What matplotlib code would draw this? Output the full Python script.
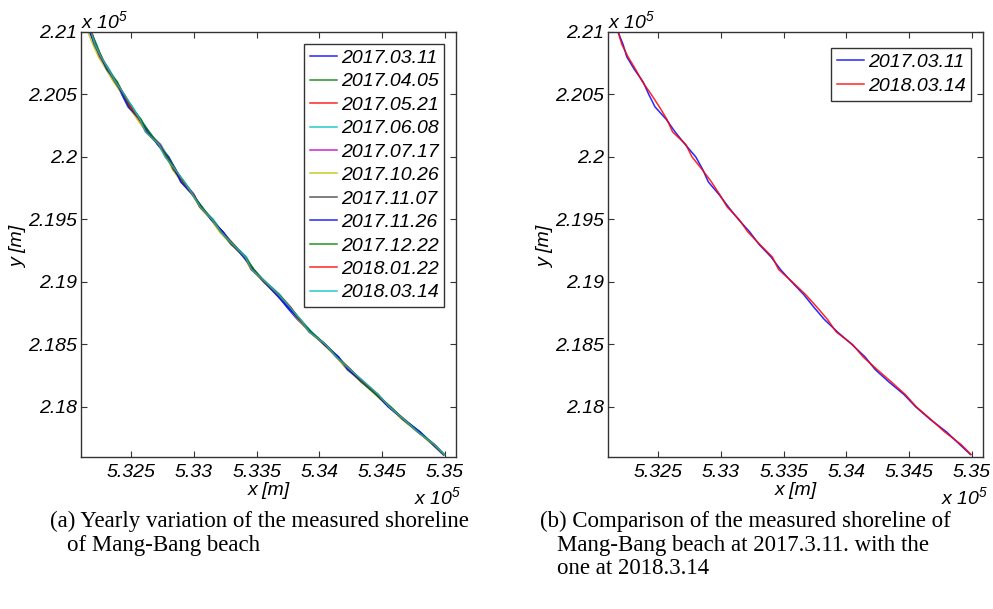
import numpy as np
import matplotlib.pyplot as plt

plt.rcParams['font.family'] = ['Liberation Sans', 'DejaVu Sans']
plt.rcParams['mathtext.fontset'] = 'custom'
plt.rcParams['mathtext.it'] = 'Liberation Sans:italic'
plt.rcParams['mathtext.rm'] = 'Liberation Sans:italic'

# shoreline northing (m), every 100 m
y_base = [221000, 220900, 220800, 220700, 220600, 220500, 220400, 220300, 220200,
          220100, 220000, 219900, 219800, 219700, 219600, 219500, 219400, 219300,
          219200, 219100, 219000, 218900, 218800, 218700, 218600, 218500, 218400,
          218300, 218200, 218100, 218000, 217900, 217800, 217700, 217620]
# mean shoreline easting (m)
x_base = [532180, 532215, 532255, 532310, 532375, 532435, 532490, 532565, 532625,
          532720, 532785, 532845, 532910, 532990, 533055, 533140, 533220, 533305,
          533405, 533465, 533565, 533670, 533760, 533840, 533925, 534045, 534140,
          534235, 534340, 534455, 534560, 534670, 534790, 534910, 534990]

dates = ['2017.03.11', '2017.04.05', '2017.05.21', '2017.06.08', '2017.07.17',
         '2017.10.26', '2017.11.07', '2017.11.26', '2017.12.22', '2018.01.22',
         '2018.03.14']

# easting offsets of each survey from the mean shoreline (m)
offsets = {
    '2017.03.11': [0, 5, -5, 0, 5, -10, -15, 0, 10, -5, 15, 10, -10, -5, 5, 0, 10, 0,
                   -5, 10, 0, -10, -20, -15, 5, 0, 10, -5, 0, 5, -5, 0, 10, -5, 0],
    '2017.04.05': [-10, -5, 0, 10, 5, 0, 10, 15, 0, -5, 5, 0, 10, 5, -5, 10, 0, -10,
                   5, 0, -5, 10, 5, 0, -5, 5, 10, 0, -5, 5, 10, 0, -5, 5, 0],
    '2017.05.21': [5, 0, 10, -5, 0, 10, 15, -10, 5, 10, -5, 5, 0, 10, -10, 0, 5, 15,
                   0, -10, 5, 0, -5, 10, 5, -10, 5, 15, 5, -5, 0, 10, 5, 0, 5],
    '2017.06.08': [0, 10, 5, 15, 10, 5, 20, 10, 5, 15, 10, 5, 15, 10, 0, 15, 5, 10,
                   15, 5, 10, 15, 5, 10, 15, 5, 10, 5, 15, 10, 5, 10, 15, 5, 10],
    '2017.07.17': [-5, 0, -10, 5, 0, -5, 5, 0, -5, 10, 0, -5, 5, 10, -5, 0, 5, -5,
                   0, 5, -10, 0, 5, -5, 0, 5, 0, -10, 5, 0, -5, 5, 0, -5, 0],
    '2017.10.26': [-25, -20, -15, -10, -15, -5, -10, -15, -5, -10, -5, -15, -10, -5,
                   -10, -5, -15, -5, -10, -5, -10, -15, -5, -10, -5, -10, -5, -15,
                   -5, -10, -5, -10, -5, -10, -5],
    '2017.11.07': [-5, -10, 0, 5, -5, 0, -5, 5, 0, -5, 5, -10, 0, 5, -5, 5, 0, -5,
                   5, 0, -5, 5, -5, 0, 5, -5, 0, 5, -5, 0, 5, -5, 0, 5, 0],
    '2017.11.26': [-10, -5, 5, -5, 10, -5, -10, 5, 15, -10, 10, 5, -15, 0, 10, -5,
                   15, 5, -10, 10, -5, -15, -10, 0, 10, -5, 15, -10, 5, 0, -10, 5,
                   15, -5, 0],
    '2017.12.22': [0, 5, 10, 0, 15, 5, 0, 10, 20, 0, 5, 10, 5, 0, 10, 5, 0, 10, 5,
                   15, 0, 5, 10, 0, 10, 5, 0, 15, 5, 0, 10, 5, 0, 10, 5],
    '2018.01.22': [5, -5, 5, 10, 0, 10, 5, 5, -10, 0, -10, 5, 10, 0, -5, 5, -5, 5, 5,
                   -5, 5, 5, 10, 5, -5, 5, -5, 10, 15, 15, 0, 5, -5, 5, 5],
    '2018.03.14': [0, -5, 5, 10, 0, 10, 20, 5, -10, 0, -15, 5, 15, 0, -5, 5, -5, 5,
                   5, -5, 5, 5, 5, 10, -5, 5, -5, 10, 20, 15, 0, 5, -5, 5, 5],
}

colors_a = ['#0000ff', '#008000', '#ff0000', '#00bfbf', '#bf00bf', '#bfbf00',
            '#404040', '#0000ff', '#008000', '#ff0000', '#00bfbf']

xticks = [532500, 533000, 533500, 534000, 534500, 535000]
xticklabels = ['5.325', '5.33', '5.335', '5.34', '5.345', '5.35']
yticks = [218000, 218500, 219000, 219500, 220000, 220500, 221000]
yticklabels = ['2.18', '2.185', '2.19', '2.195', '2.2', '2.205', '2.21']

fs = 14

fig = plt.figure(figsize=(9.93, 6.09), dpi=100)
ax1 = fig.add_axes([0.0816, 0.2496, 0.3776, 0.698])
ax2 = fig.add_axes([0.6123, 0.2496, 0.3776, 0.698])

yb = np.array(y_base)
xb = np.array(x_base)

for d, c in zip(dates, colors_a):
    ax1.plot(xb + np.array(offsets[d]), yb, color=c, lw=1.1, label=d, alpha=0.85)

ax2.plot(xb + np.array(offsets['2017.03.11']), yb, color='#0000ff', lw=1.1,
         label='2017.03.11', alpha=0.85)
ax2.plot(xb + np.array(offsets['2018.03.14']), yb, color='#ff0000', lw=1.1,
         label='2018.03.14', alpha=0.85)

for ax in (ax1, ax2):
    ax.set_xlim(532100, 535090)
    ax.set_ylim(217600, 221000)
    ax.set_xticks(xticks)
    ax.set_xticklabels(xticklabels)
    ax.set_yticks(yticks)
    ax.set_yticklabels(yticklabels)
    ax.tick_params(direction='in', length=4, width=0.8, top=True, right=True,
                   labelsize=fs, colors='#333333', labelcolor='black', pad=3)
    ax.tick_params(axis='x', pad=5)
    for lab in ax.get_xticklabels() + ax.get_yticklabels():
        lab.set_fontstyle('italic')
    for s in ax.spines.values():
        s.set_color('#333333')
        s.set_linewidth(1.0)
    ax.set_xlabel('x [m]', fontsize=fs, fontstyle='italic')
    ax.xaxis.set_label_coords(0.5, -0.06)
    ax.set_ylabel('y [m]', fontsize=fs, fontstyle='italic')
    ax.yaxis.set_label_coords(-0.145, 0.494)
    ax.text(0.0, 1.0, 'x 10$^{5}$', transform=ax.transAxes, ha='left', va='bottom',
            fontsize=fs, fontstyle='italic')
    ax.annotate('x 10$^{5}$', xy=(1.0, 0.0), xycoords='axes fraction',
                xytext=(4, -21), textcoords='offset points', ha='right', va='top',
                fontsize=fs, fontstyle='italic')

leg_kw = dict(fancybox=False, edgecolor='#333333', framealpha=1, borderpad=0.3,
              labelspacing=0.30, handlelength=1.4, handletextpad=0.2,
              borderaxespad=0.6, prop={'style': 'italic', 'size': fs})
l1 = ax1.legend(loc='upper right', **leg_kw)
l2 = ax2.legend(loc='upper right', bbox_to_anchor=(1.0, 0.99), **leg_kw)
for l in (l1, l2):
    l.get_frame().set_linewidth(1.0)

serif = ['Liberation Serif', 'DejaVu Serif']
cfs = 16.5
fig.text(50 / 993, 1 - 521 / 609, '(a) Yearly variation of the measured shoreline',
         family=serif, fontsize=cfs, va='center')
fig.text(67 / 993, 1 - 545 / 609, 'of Mang-Bang beach', family=serif, fontsize=cfs,
         va='center')
fig.text(540 / 993, 1 - 521 / 609, '(b) Comparison of the measured shoreline of',
         family=serif, fontsize=cfs, va='center')
fig.text(557 / 993, 1 - 545 / 609, 'Mang-Bang beach at 2017.3.11. with the',
         family=serif, fontsize=cfs, va='center')
fig.text(557 / 993, 1 - 569 / 609, 'one at 2018.3.14', family=serif, fontsize=cfs,
         va='center')

fig.savefig('out.png', dpi=100)
